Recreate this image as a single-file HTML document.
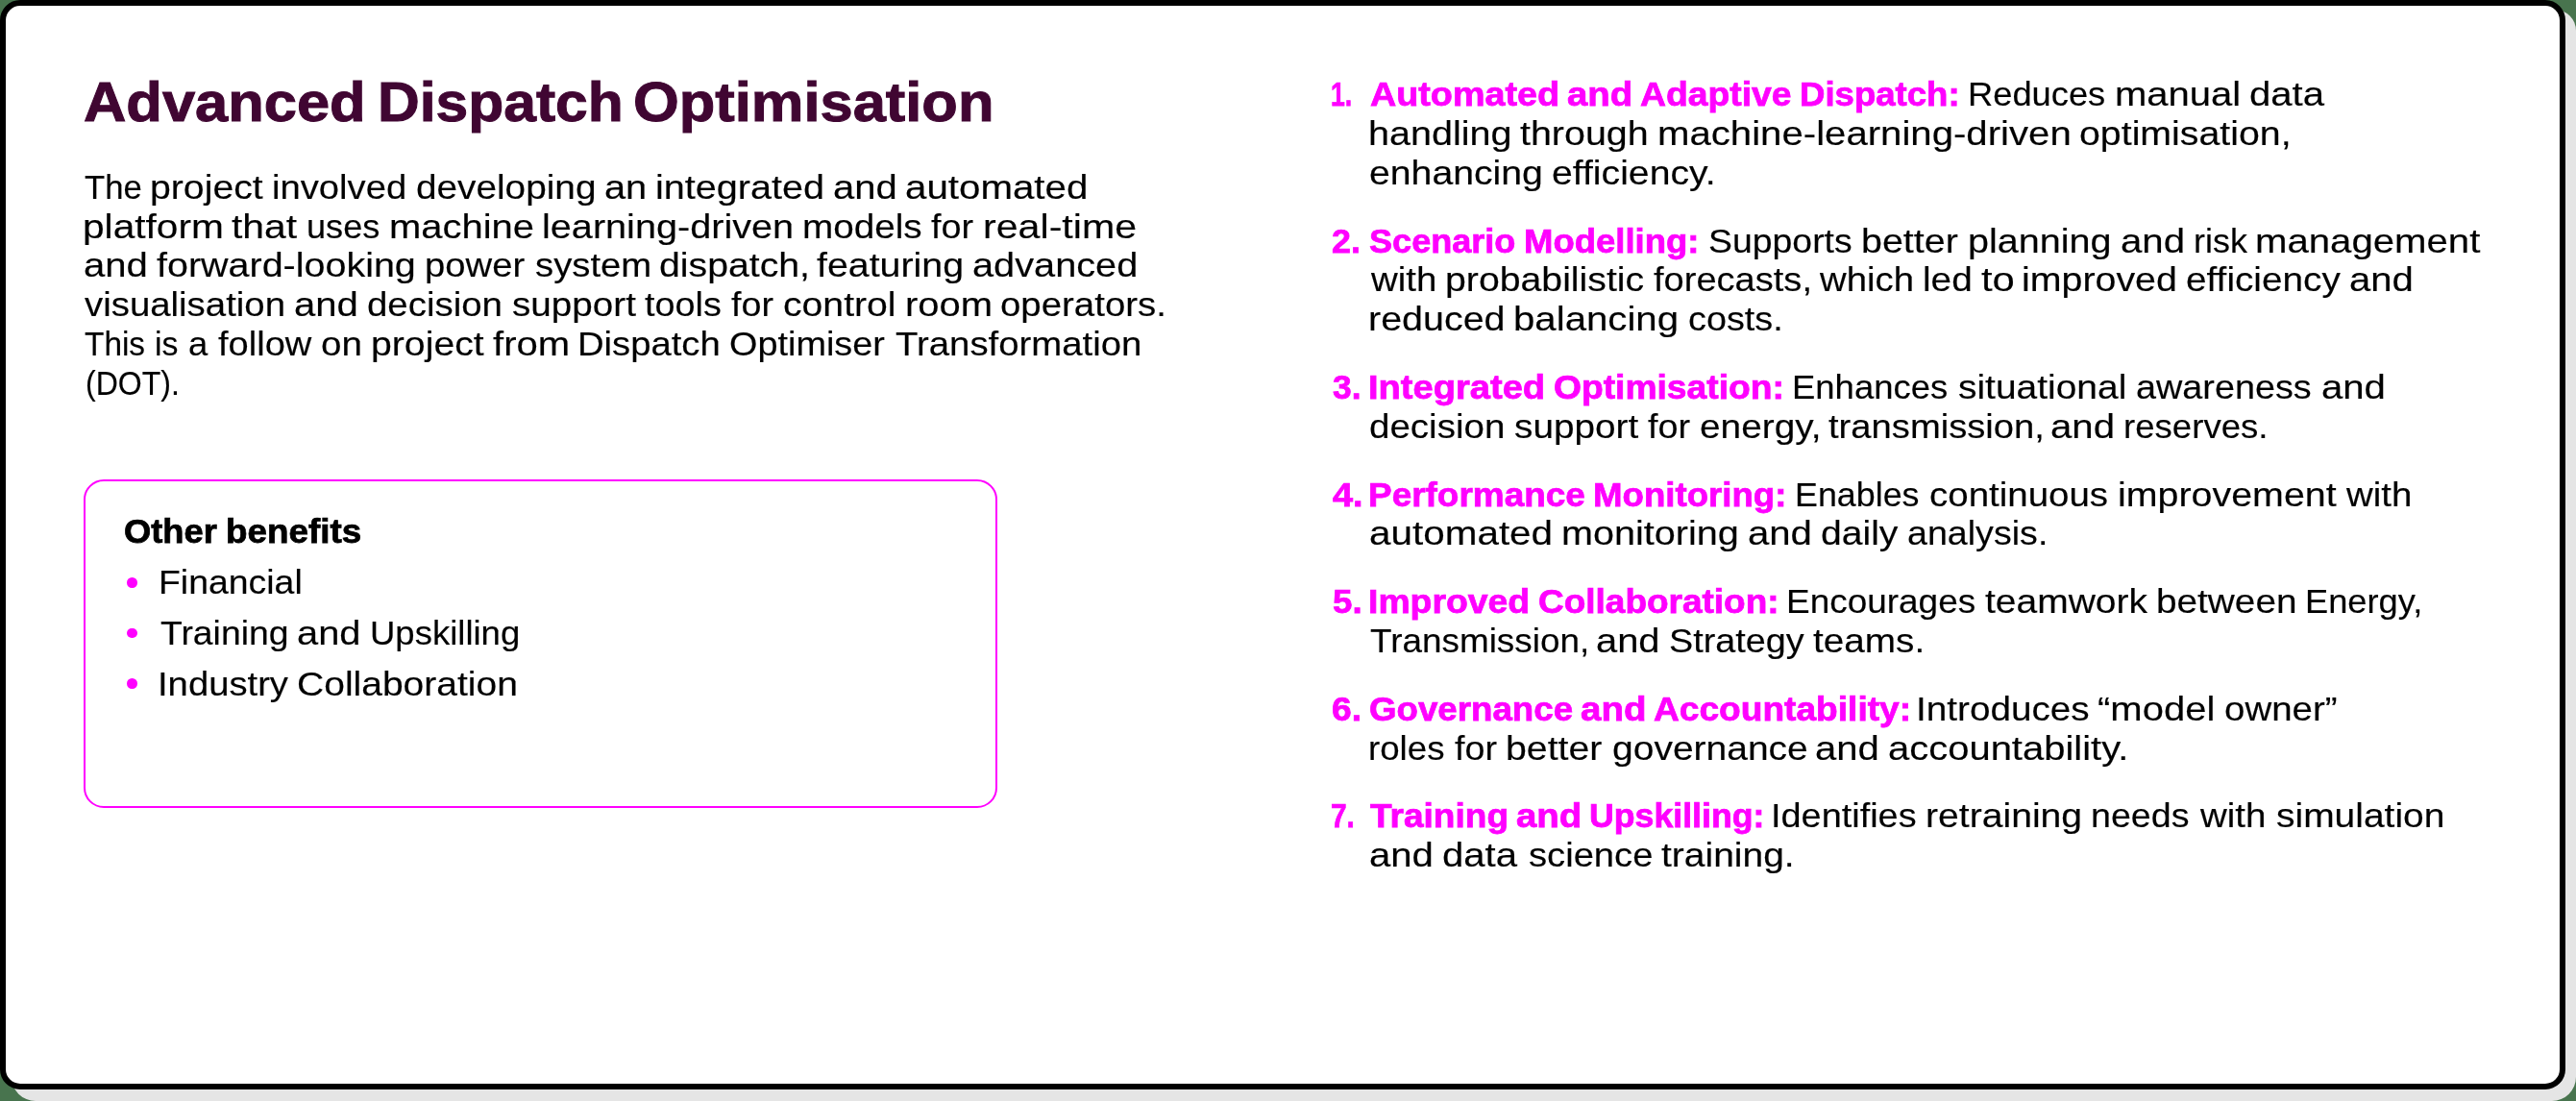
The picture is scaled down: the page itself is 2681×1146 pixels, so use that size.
<!DOCTYPE html>
<html><head><meta charset="utf-8"><title>Advanced Dispatch Optimisation</title><style>
html,body{margin:0;padding:0;}
body{width:2681px;height:1146px;background:#48744e;position:relative;overflow:hidden;font-family:"Liberation Sans", sans-serif;}
.shadow{position:absolute;left:12px;top:10px;width:2669px;height:1136px;background:#e5e5e5;border-radius:22px 22px 25px 25px;}
.card{position:absolute;left:0;top:0;width:2670px;height:1134px;box-sizing:border-box;border:6px solid #000;border-radius:21px;background:#fff;}
.box{position:absolute;left:86.5px;top:499px;width:951.5px;height:341.5px;box-sizing:border-box;border:2px solid #ff00ff;border-radius:21px;}
.txt{position:absolute;left:0;top:0;width:2681px;height:1146px;will-change:transform;}
.t{position:absolute;white-space:pre;line-height:1;transform-origin:0 0;}
.dot{position:absolute;width:10.6px;height:10.6px;border-radius:50%;background:#ff00ff;}
</style></head><body>
<div class="shadow"></div>
<div class="card"></div>
<div class="box"></div>
<div class="dot" style="left:132.2px;top:601.30px"></div><div class="dot" style="left:132.2px;top:653.80px"></div><div class="dot" style="left:132.2px;top:706.35px"></div>
<div class="txt">
<div class="t" style="left:87.44px;top:77.00px;font-size:58px;font-weight:700;color:#400632;-webkit-text-stroke:1.0px #400632;transform:scaleX(1.0592)">Advanced</div>
<div class="t" style="left:392.60px;top:77.00px;font-size:58px;font-weight:700;color:#400632;-webkit-text-stroke:1.0px #400632;transform:scaleX(1.0443)">Dispatch</div>
<div class="t" style="left:658.74px;top:77.00px;font-size:58px;font-weight:700;color:#400632;-webkit-text-stroke:1.0px #400632;transform:scaleX(1.0591)">Optimisation</div>
<div class="t" style="left:88.08px;top:176.80px;font-size:35px;font-weight:400;color:#000000;-webkit-text-stroke:0.15px #000000;transform:scaleX(0.9914)">The</div>
<div class="t" style="left:156.07px;top:176.80px;font-size:35px;font-weight:400;color:#000000;-webkit-text-stroke:0.15px #000000;transform:scaleX(1.1203)">project</div>
<div class="t" style="left:283.19px;top:176.80px;font-size:35px;font-weight:400;color:#000000;-webkit-text-stroke:0.15px #000000;transform:scaleX(1.0920)">involved</div>
<div class="t" style="left:432.50px;top:176.80px;font-size:35px;font-weight:400;color:#000000;-webkit-text-stroke:0.15px #000000;transform:scaleX(1.1070)">developing</div>
<div class="t" style="left:628.94px;top:176.80px;font-size:35px;font-weight:400;color:#000000;-webkit-text-stroke:0.15px #000000;transform:scaleX(1.1361)">an</div>
<div class="t" style="left:681.81px;top:176.80px;font-size:35px;font-weight:400;color:#000000;-webkit-text-stroke:0.15px #000000;transform:scaleX(1.1307)">integrated</div>
<div class="t" style="left:866.81px;top:176.80px;font-size:35px;font-weight:400;color:#000000;-webkit-text-stroke:0.15px #000000;transform:scaleX(1.1417)">and</div>
<div class="t" style="left:942.44px;top:176.80px;font-size:35px;font-weight:400;color:#000000;-webkit-text-stroke:0.15px #000000;transform:scaleX(1.1510)">automated</div>
<div class="t" style="left:85.75px;top:217.60px;font-size:35px;font-weight:400;color:#000000;-webkit-text-stroke:0.15px #000000;transform:scaleX(1.1617)">platform</div>
<div class="t" style="left:240.85px;top:217.60px;font-size:35px;font-weight:400;color:#000000;-webkit-text-stroke:0.15px #000000;transform:scaleX(1.1659)">that</div>
<div class="t" style="left:318.53px;top:217.60px;font-size:35px;font-weight:400;color:#000000;-webkit-text-stroke:0.15px #000000;transform:scaleX(1.0335)">uses</div>
<div class="t" style="left:404.80px;top:217.60px;font-size:35px;font-weight:400;color:#000000;-webkit-text-stroke:0.15px #000000;transform:scaleX(1.1413)">machine</div>
<div class="t" style="left:563.80px;top:217.60px;font-size:35px;font-weight:400;color:#000000;-webkit-text-stroke:0.15px #000000;transform:scaleX(1.1322)">learning-driven</div>
<div class="t" style="left:834.69px;top:217.60px;font-size:35px;font-weight:400;color:#000000;-webkit-text-stroke:0.15px #000000;transform:scaleX(1.1051)">models</div>
<div class="t" style="left:969.49px;top:217.60px;font-size:35px;font-weight:400;color:#000000;-webkit-text-stroke:0.15px #000000;transform:scaleX(1.0796)">for</div>
<div class="t" style="left:1023.27px;top:217.60px;font-size:35px;font-weight:400;color:#000000;-webkit-text-stroke:0.15px #000000;transform:scaleX(1.1759)">real-time</div>
<div class="t" style="left:86.93px;top:258.40px;font-size:35px;font-weight:400;color:#000000;-webkit-text-stroke:0.15px #000000;transform:scaleX(1.1449)">and</div>
<div class="t" style="left:162.93px;top:258.40px;font-size:35px;font-weight:400;color:#000000;-webkit-text-stroke:0.15px #000000;transform:scaleX(1.1276)">forward-looking</div>
<div class="t" style="left:441.70px;top:258.40px;font-size:35px;font-weight:400;color:#000000;-webkit-text-stroke:0.15px #000000;transform:scaleX(1.0930)">power</div>
<div class="t" style="left:556.91px;top:258.40px;font-size:35px;font-weight:400;color:#000000;-webkit-text-stroke:0.15px #000000;transform:scaleX(1.0935)">system</div>
<div class="t" style="left:686.34px;top:258.40px;font-size:35px;font-weight:400;color:#000000;-webkit-text-stroke:0.15px #000000;transform:scaleX(1.1207)">dispatch,</div>
<div class="t" style="left:850.05px;top:258.40px;font-size:35px;font-weight:400;color:#000000;-webkit-text-stroke:0.15px #000000;transform:scaleX(1.1236)">featuring</div>
<div class="t" style="left:1012.12px;top:258.40px;font-size:35px;font-weight:400;color:#000000;-webkit-text-stroke:0.15px #000000;transform:scaleX(1.1349)">advanced</div>
<div class="t" style="left:88.08px;top:299.20px;font-size:35px;font-weight:400;color:#000000;-webkit-text-stroke:0.15px #000000;transform:scaleX(1.0962)">visualisation</div>
<div class="t" style="left:305.92px;top:299.20px;font-size:35px;font-weight:400;color:#000000;-webkit-text-stroke:0.15px #000000;transform:scaleX(1.1450)">and</div>
<div class="t" style="left:381.82px;top:299.20px;font-size:35px;font-weight:400;color:#000000;-webkit-text-stroke:0.15px #000000;transform:scaleX(1.0980)">decision</div>
<div class="t" style="left:532.81px;top:299.20px;font-size:35px;font-weight:400;color:#000000;-webkit-text-stroke:0.15px #000000;transform:scaleX(1.1048)">support</div>
<div class="t" style="left:671.42px;top:299.20px;font-size:35px;font-weight:400;color:#000000;-webkit-text-stroke:0.15px #000000;transform:scaleX(1.0801)">tools</div>
<div class="t" style="left:761.38px;top:299.20px;font-size:35px;font-weight:400;color:#000000;-webkit-text-stroke:0.15px #000000;transform:scaleX(1.0776)">for</div>
<div class="t" style="left:815.28px;top:299.20px;font-size:35px;font-weight:400;color:#000000;-webkit-text-stroke:0.15px #000000;transform:scaleX(1.1190)">control</div>
<div class="t" style="left:941.94px;top:299.20px;font-size:35px;font-weight:400;color:#000000;-webkit-text-stroke:0.15px #000000;transform:scaleX(1.1425)">room</div>
<div class="t" style="left:1041.18px;top:299.20px;font-size:35px;font-weight:400;color:#000000;-webkit-text-stroke:0.15px #000000;transform:scaleX(1.0974)">operators.</div>
<div class="t" style="left:88.08px;top:340.00px;font-size:35px;font-weight:400;color:#000000;-webkit-text-stroke:0.15px #000000;transform:scaleX(0.9537)">This</div>
<div class="t" style="left:161.33px;top:340.00px;font-size:35px;font-weight:400;color:#000000;-webkit-text-stroke:0.15px #000000;transform:scaleX(0.9679)">is</div>
<div class="t" style="left:195.88px;top:340.00px;font-size:35px;font-weight:400;color:#000000;-webkit-text-stroke:0.15px #000000;transform:scaleX(1.0417)">a</div>
<div class="t" style="left:227.49px;top:340.00px;font-size:35px;font-weight:400;color:#000000;-webkit-text-stroke:0.15px #000000;transform:scaleX(1.0876)">follow</div>
<div class="t" style="left:334.12px;top:340.00px;font-size:35px;font-weight:400;color:#000000;-webkit-text-stroke:0.15px #000000;transform:scaleX(1.1030)">on</div>
<div class="t" style="left:385.77px;top:340.00px;font-size:35px;font-weight:400;color:#000000;-webkit-text-stroke:0.15px #000000;transform:scaleX(1.1202)">project</div>
<div class="t" style="left:513.07px;top:340.00px;font-size:35px;font-weight:400;color:#000000;-webkit-text-stroke:0.15px #000000;transform:scaleX(1.1450)">from</div>
<div class="t" style="left:601.24px;top:340.00px;font-size:35px;font-weight:400;color:#000000;-webkit-text-stroke:0.15px #000000;transform:scaleX(1.0923)">Dispatch</div>
<div class="t" style="left:758.87px;top:340.00px;font-size:35px;font-weight:400;color:#000000;-webkit-text-stroke:0.15px #000000;transform:scaleX(1.0809)">Optimiser</div>
<div class="t" style="left:931.70px;top:340.00px;font-size:35px;font-weight:400;color:#000000;-webkit-text-stroke:0.15px #000000;transform:scaleX(1.0956)">Transformation</div>
<div class="t" style="left:88.54px;top:380.90px;font-size:35px;font-weight:400;color:#000000;-webkit-text-stroke:0.15px #000000;transform:scaleX(0.9155)">(DOT).</div>
<div class="t" style="left:129.04px;top:535.00px;font-size:35px;font-weight:700;color:#000000;-webkit-text-stroke:0.75px #000000;transform:scaleX(1.0375)">Other</div>
<div class="t" style="left:234.56px;top:535.00px;font-size:35px;font-weight:700;color:#000000;-webkit-text-stroke:0.75px #000000;transform:scaleX(1.0519)">benefits</div>
<div class="t" style="left:165.14px;top:588.00px;font-size:35px;font-weight:400;color:#000000;-webkit-text-stroke:0.15px #000000;transform:scaleX(1.0687)">Financial</div>
<div class="t" style="left:166.57px;top:640.60px;font-size:35px;font-weight:400;color:#000000;-webkit-text-stroke:0.15px #000000;transform:scaleX(1.0666)">Training</div>
<div class="t" style="left:309.10px;top:640.60px;font-size:35px;font-weight:400;color:#000000;-webkit-text-stroke:0.15px #000000;transform:scaleX(1.1379)">and</div>
<div class="t" style="left:384.53px;top:640.60px;font-size:35px;font-weight:400;color:#000000;-webkit-text-stroke:0.15px #000000;transform:scaleX(1.0431)">Upskilling</div>
<div class="t" style="left:163.80px;top:693.60px;font-size:35px;font-weight:400;color:#000000;-webkit-text-stroke:0.15px #000000;transform:scaleX(1.0922)">Industry</div>
<div class="t" style="left:309.24px;top:693.60px;font-size:35px;font-weight:400;color:#000000;-webkit-text-stroke:0.15px #000000;transform:scaleX(1.1148)">Collaboration</div>
<div class="t" style="left:1384.76px;top:80.00px;font-size:35px;font-weight:700;color:#ff00ff;-webkit-text-stroke:0.75px #ff00ff;transform:scaleX(0.7599)">1.</div>
<div class="t" style="left:1426.38px;top:80.00px;font-size:35px;font-weight:700;color:#ff00ff;-webkit-text-stroke:0.75px #ff00ff;transform:scaleX(1.0778)">Automated</div>
<div class="t" style="left:1630.60px;top:80.00px;font-size:35px;font-weight:700;color:#ff00ff;-webkit-text-stroke:0.75px #ff00ff;transform:scaleX(1.0970)">and</div>
<div class="t" style="left:1707.17px;top:80.00px;font-size:35px;font-weight:700;color:#ff00ff;-webkit-text-stroke:0.75px #ff00ff;transform:scaleX(1.0660)">Adaptive</div>
<div class="t" style="left:1872.84px;top:80.00px;font-size:35px;font-weight:700;color:#ff00ff;-webkit-text-stroke:0.75px #ff00ff;transform:scaleX(1.0445)">Dispatch:</div>
<div class="t" style="left:2047.50px;top:80.00px;font-size:35px;font-weight:400;color:#000000;-webkit-text-stroke:0.15px #000000;transform:scaleX(1.0367)">Reduces</div>
<div class="t" style="left:2200.56px;top:80.00px;font-size:35px;font-weight:400;color:#000000;-webkit-text-stroke:0.15px #000000;transform:scaleX(1.1434)">manual</div>
<div class="t" style="left:2341.03px;top:80.00px;font-size:35px;font-weight:400;color:#000000;-webkit-text-stroke:0.15px #000000;transform:scaleX(1.1462)">data</div>
<div class="t" style="left:1423.82px;top:120.80px;font-size:35px;font-weight:400;color:#000000;-webkit-text-stroke:0.15px #000000;transform:scaleX(1.1291)">handling</div>
<div class="t" style="left:1582.42px;top:120.80px;font-size:35px;font-weight:400;color:#000000;-webkit-text-stroke:0.15px #000000;transform:scaleX(1.1260)">through</div>
<div class="t" style="left:1724.77px;top:120.80px;font-size:35px;font-weight:400;color:#000000;-webkit-text-stroke:0.15px #000000;transform:scaleX(1.1472)">machine-learning-driven</div>
<div class="t" style="left:2164.34px;top:120.80px;font-size:35px;font-weight:400;color:#000000;-webkit-text-stroke:0.15px #000000;transform:scaleX(1.1230)">optimisation,</div>
<div class="t" style="left:1424.96px;top:161.60px;font-size:35px;font-weight:400;color:#000000;-webkit-text-stroke:0.15px #000000;transform:scaleX(1.1198)">enhancing</div>
<div class="t" style="left:1614.90px;top:161.60px;font-size:35px;font-weight:400;color:#000000;-webkit-text-stroke:0.15px #000000;transform:scaleX(1.1193)">efficiency.</div>
<div class="t" style="left:1385.75px;top:232.50px;font-size:35px;font-weight:700;color:#ff00ff;-webkit-text-stroke:0.75px #ff00ff;transform:scaleX(1.0221)">2.</div>
<div class="t" style="left:1425.34px;top:232.50px;font-size:35px;font-weight:700;color:#ff00ff;-webkit-text-stroke:0.75px #ff00ff;transform:scaleX(1.0309)">Scenario</div>
<div class="t" style="left:1585.69px;top:232.50px;font-size:35px;font-weight:700;color:#ff00ff;-webkit-text-stroke:0.75px #ff00ff;transform:scaleX(1.0431)">Modelling:</div>
<div class="t" style="left:1777.91px;top:232.50px;font-size:35px;font-weight:400;color:#000000;-webkit-text-stroke:0.15px #000000;transform:scaleX(1.0685)">Supports</div>
<div class="t" style="left:1937.48px;top:232.50px;font-size:35px;font-weight:400;color:#000000;-webkit-text-stroke:0.15px #000000;transform:scaleX(1.1258)">better</div>
<div class="t" style="left:2048.04px;top:232.50px;font-size:35px;font-weight:400;color:#000000;-webkit-text-stroke:0.15px #000000;transform:scaleX(1.1300)">planning</div>
<div class="t" style="left:2206.62px;top:232.50px;font-size:35px;font-weight:400;color:#000000;-webkit-text-stroke:0.15px #000000;transform:scaleX(1.1480)">and</div>
<div class="t" style="left:2282.78px;top:232.50px;font-size:35px;font-weight:400;color:#000000;-webkit-text-stroke:0.15px #000000;transform:scaleX(1.0260)">risk</div>
<div class="t" style="left:2347.28px;top:232.50px;font-size:35px;font-weight:400;color:#000000;-webkit-text-stroke:0.15px #000000;transform:scaleX(1.1470)">management</div>
<div class="t" style="left:1427.17px;top:273.30px;font-size:35px;font-weight:400;color:#000000;-webkit-text-stroke:0.15px #000000;transform:scaleX(1.0980)">with</div>
<div class="t" style="left:1504.26px;top:273.30px;font-size:35px;font-weight:400;color:#000000;-webkit-text-stroke:0.15px #000000;transform:scaleX(1.1209)">probabilistic</div>
<div class="t" style="left:1721.34px;top:273.30px;font-size:35px;font-weight:400;color:#000000;-webkit-text-stroke:0.15px #000000;transform:scaleX(1.0873)">forecasts,</div>
<div class="t" style="left:1894.20px;top:273.30px;font-size:35px;font-weight:400;color:#000000;-webkit-text-stroke:0.15px #000000;transform:scaleX(1.0949)">which</div>
<div class="t" style="left:2000.96px;top:273.30px;font-size:35px;font-weight:400;color:#000000;-webkit-text-stroke:0.15px #000000;transform:scaleX(1.1078)">led</div>
<div class="t" style="left:2061.89px;top:273.30px;font-size:35px;font-weight:400;color:#000000;-webkit-text-stroke:0.15px #000000;transform:scaleX(1.1923)">to</div>
<div class="t" style="left:2104.29px;top:273.30px;font-size:35px;font-weight:400;color:#000000;-webkit-text-stroke:0.15px #000000;transform:scaleX(1.1246)">improved</div>
<div class="t" style="left:2275.22px;top:273.30px;font-size:35px;font-weight:400;color:#000000;-webkit-text-stroke:0.15px #000000;transform:scaleX(1.1071)">efficiency</div>
<div class="t" style="left:2445.47px;top:273.30px;font-size:35px;font-weight:400;color:#000000;-webkit-text-stroke:0.15px #000000;transform:scaleX(1.1444)">and</div>
<div class="t" style="left:1423.82px;top:314.10px;font-size:35px;font-weight:400;color:#000000;-webkit-text-stroke:0.15px #000000;transform:scaleX(1.1269)">reduced</div>
<div class="t" style="left:1575.32px;top:314.10px;font-size:35px;font-weight:400;color:#000000;-webkit-text-stroke:0.15px #000000;transform:scaleX(1.1484)">balancing</div>
<div class="t" style="left:1756.53px;top:314.10px;font-size:35px;font-weight:400;color:#000000;-webkit-text-stroke:0.15px #000000;transform:scaleX(1.0801)">costs.</div>
<div class="t" style="left:1386.78px;top:385.00px;font-size:35px;font-weight:700;color:#ff00ff;-webkit-text-stroke:0.75px #ff00ff;transform:scaleX(1.0104)">3.</div>
<div class="t" style="left:1424.20px;top:385.00px;font-size:35px;font-weight:700;color:#ff00ff;-webkit-text-stroke:0.75px #ff00ff;transform:scaleX(1.0880)">Integrated</div>
<div class="t" style="left:1616.58px;top:385.00px;font-size:35px;font-weight:700;color:#ff00ff;-webkit-text-stroke:0.75px #ff00ff;transform:scaleX(1.0635)">Optimisation:</div>
<div class="t" style="left:1864.99px;top:385.00px;font-size:35px;font-weight:400;color:#000000;-webkit-text-stroke:0.15px #000000;transform:scaleX(1.0419)">Enhances</div>
<div class="t" style="left:2038.31px;top:385.00px;font-size:35px;font-weight:400;color:#000000;-webkit-text-stroke:0.15px #000000;transform:scaleX(1.1125)">situational</div>
<div class="t" style="left:2222.98px;top:385.00px;font-size:35px;font-weight:400;color:#000000;-webkit-text-stroke:0.15px #000000;transform:scaleX(1.0796)">awareness</div>
<div class="t" style="left:2415.68px;top:385.00px;font-size:35px;font-weight:400;color:#000000;-webkit-text-stroke:0.15px #000000;transform:scaleX(1.1460)">and</div>
<div class="t" style="left:1424.97px;top:425.80px;font-size:35px;font-weight:400;color:#000000;-webkit-text-stroke:0.15px #000000;transform:scaleX(1.1005)">decision</div>
<div class="t" style="left:1576.31px;top:425.80px;font-size:35px;font-weight:400;color:#000000;-webkit-text-stroke:0.15px #000000;transform:scaleX(1.1073)">support</div>
<div class="t" style="left:1715.24px;top:425.80px;font-size:35px;font-weight:400;color:#000000;-webkit-text-stroke:0.15px #000000;transform:scaleX(1.0801)">for</div>
<div class="t" style="left:1769.29px;top:425.80px;font-size:35px;font-weight:400;color:#000000;-webkit-text-stroke:0.15px #000000;transform:scaleX(1.1084)">energy,</div>
<div class="t" style="left:1902.57px;top:425.80px;font-size:35px;font-weight:400;color:#000000;-webkit-text-stroke:0.15px #000000;transform:scaleX(1.0910)">transmission,</div>
<div class="t" style="left:2134.17px;top:425.80px;font-size:35px;font-weight:400;color:#000000;-webkit-text-stroke:0.15px #000000;transform:scaleX(1.1476)">and</div>
<div class="t" style="left:2210.25px;top:425.80px;font-size:35px;font-weight:400;color:#000000;-webkit-text-stroke:0.15px #000000;transform:scaleX(1.0458)">reserves.</div>
<div class="t" style="left:1386.78px;top:496.60px;font-size:35px;font-weight:700;color:#ff00ff;-webkit-text-stroke:0.75px #ff00ff;transform:scaleX(1.0832)">4.</div>
<div class="t" style="left:1424.26px;top:496.60px;font-size:35px;font-weight:700;color:#ff00ff;-webkit-text-stroke:0.75px #ff00ff;transform:scaleX(1.0556)">Performance</div>
<div class="t" style="left:1658.28px;top:496.60px;font-size:35px;font-weight:700;color:#ff00ff;-webkit-text-stroke:0.75px #ff00ff;transform:scaleX(1.0467)">Monitoring:</div>
<div class="t" style="left:1868.43px;top:496.60px;font-size:35px;font-weight:400;color:#000000;-webkit-text-stroke:0.15px #000000;transform:scaleX(1.0236)">Enables</div>
<div class="t" style="left:2007.91px;top:496.60px;font-size:35px;font-weight:400;color:#000000;-webkit-text-stroke:0.15px #000000;transform:scaleX(1.0993)">continuous</div>
<div class="t" style="left:2203.84px;top:496.60px;font-size:35px;font-weight:400;color:#000000;-webkit-text-stroke:0.15px #000000;transform:scaleX(1.1254)">improvement</div>
<div class="t" style="left:2442.23px;top:496.60px;font-size:35px;font-weight:400;color:#000000;-webkit-text-stroke:0.15px #000000;transform:scaleX(1.0974)">with</div>
<div class="t" style="left:1424.92px;top:537.40px;font-size:35px;font-weight:400;color:#000000;-webkit-text-stroke:0.15px #000000;transform:scaleX(1.1554)">automated</div>
<div class="t" style="left:1624.88px;top:537.40px;font-size:35px;font-weight:400;color:#000000;-webkit-text-stroke:0.15px #000000;transform:scaleX(1.1305)">monitoring</div>
<div class="t" style="left:1818.65px;top:537.40px;font-size:35px;font-weight:400;color:#000000;-webkit-text-stroke:0.15px #000000;transform:scaleX(1.1460)">and</div>
<div class="t" style="left:1894.60px;top:537.40px;font-size:35px;font-weight:400;color:#000000;-webkit-text-stroke:0.15px #000000;transform:scaleX(1.1169)">daily</div>
<div class="t" style="left:1984.51px;top:537.40px;font-size:35px;font-weight:400;color:#000000;-webkit-text-stroke:0.15px #000000;transform:scaleX(1.0747)">analysis.</div>
<div class="t" style="left:1386.53px;top:608.20px;font-size:35px;font-weight:700;color:#ff00ff;-webkit-text-stroke:0.75px #ff00ff;transform:scaleX(1.0485)">5.</div>
<div class="t" style="left:1424.24px;top:608.20px;font-size:35px;font-weight:700;color:#ff00ff;-webkit-text-stroke:0.75px #ff00ff;transform:scaleX(1.0672)">Improved</div>
<div class="t" style="left:1600.67px;top:608.20px;font-size:35px;font-weight:700;color:#ff00ff;-webkit-text-stroke:0.75px #ff00ff;transform:scaleX(1.0563)">Collaboration:</div>
<div class="t" style="left:1858.96px;top:608.20px;font-size:35px;font-weight:400;color:#000000;-webkit-text-stroke:0.15px #000000;transform:scaleX(1.0555)">Encourages</div>
<div class="t" style="left:2066.24px;top:608.20px;font-size:35px;font-weight:400;color:#000000;-webkit-text-stroke:0.15px #000000;transform:scaleX(1.1143)">teamwork</div>
<div class="t" style="left:2244.03px;top:608.20px;font-size:35px;font-weight:400;color:#000000;-webkit-text-stroke:0.15px #000000;transform:scaleX(1.1071)">between</div>
<div class="t" style="left:2399.42px;top:608.20px;font-size:35px;font-weight:400;color:#000000;-webkit-text-stroke:0.15px #000000;transform:scaleX(1.0364)">Energy,</div>
<div class="t" style="left:1426.08px;top:649.00px;font-size:35px;font-weight:400;color:#000000;-webkit-text-stroke:0.15px #000000;transform:scaleX(1.0541)">Transmission,</div>
<div class="t" style="left:1661.01px;top:649.00px;font-size:35px;font-weight:400;color:#000000;-webkit-text-stroke:0.15px #000000;transform:scaleX(1.1397)">and</div>
<div class="t" style="left:1736.58px;top:649.00px;font-size:35px;font-weight:400;color:#000000;-webkit-text-stroke:0.15px #000000;transform:scaleX(1.0790)">Strategy</div>
<div class="t" style="left:1886.74px;top:649.00px;font-size:35px;font-weight:400;color:#000000;-webkit-text-stroke:0.15px #000000;transform:scaleX(1.1063)">teams.</div>
<div class="t" style="left:1385.91px;top:719.80px;font-size:35px;font-weight:700;color:#ff00ff;-webkit-text-stroke:0.75px #ff00ff;transform:scaleX(1.0637)">6.</div>
<div class="t" style="left:1425.33px;top:719.80px;font-size:35px;font-weight:700;color:#ff00ff;-webkit-text-stroke:0.75px #ff00ff;transform:scaleX(1.0483)">Governance</div>
<div class="t" style="left:1644.54px;top:719.80px;font-size:35px;font-weight:700;color:#ff00ff;-webkit-text-stroke:0.75px #ff00ff;transform:scaleX(1.1005)">and</div>
<div class="t" style="left:1721.35px;top:719.80px;font-size:35px;font-weight:700;color:#ff00ff;-webkit-text-stroke:0.75px #ff00ff;transform:scaleX(1.0605)">Accountability:</div>
<div class="t" style="left:1993.76px;top:719.80px;font-size:35px;font-weight:400;color:#000000;-webkit-text-stroke:0.15px #000000;transform:scaleX(1.1050)">Introduces</div>
<div class="t" style="left:2183.39px;top:719.80px;font-size:35px;font-weight:400;color:#000000;-webkit-text-stroke:0.15px #000000;transform:scaleX(1.1440)">“model</div>
<div class="t" style="left:2315.14px;top:719.80px;font-size:35px;font-weight:400;color:#000000;-webkit-text-stroke:0.15px #000000;transform:scaleX(1.0984)">owner”</div>
<div class="t" style="left:1423.98px;top:760.60px;font-size:35px;font-weight:400;color:#000000;-webkit-text-stroke:0.15px #000000;transform:scaleX(1.0476)">roles</div>
<div class="t" style="left:1513.56px;top:760.60px;font-size:35px;font-weight:400;color:#000000;-webkit-text-stroke:0.15px #000000;transform:scaleX(1.0764)">for</div>
<div class="t" style="left:1567.28px;top:760.60px;font-size:35px;font-weight:400;color:#000000;-webkit-text-stroke:0.15px #000000;transform:scaleX(1.1215)">better</div>
<div class="t" style="left:1677.55px;top:760.60px;font-size:35px;font-weight:400;color:#000000;-webkit-text-stroke:0.15px #000000;transform:scaleX(1.1142)">governance</div>
<div class="t" style="left:1889.49px;top:760.60px;font-size:35px;font-weight:400;color:#000000;-webkit-text-stroke:0.15px #000000;transform:scaleX(1.1436)">and</div>
<div class="t" style="left:1965.26px;top:760.60px;font-size:35px;font-weight:400;color:#000000;-webkit-text-stroke:0.15px #000000;transform:scaleX(1.1418)">accountability.</div>
<div class="t" style="left:1385.42px;top:831.40px;font-size:35px;font-weight:700;color:#ff00ff;-webkit-text-stroke:0.75px #ff00ff;transform:scaleX(0.8521)">7.</div>
<div class="t" style="left:1426.38px;top:831.40px;font-size:35px;font-weight:700;color:#ff00ff;-webkit-text-stroke:0.75px #ff00ff;transform:scaleX(1.0580)">Training</div>
<div class="t" style="left:1577.65px;top:831.40px;font-size:35px;font-weight:700;color:#ff00ff;-webkit-text-stroke:0.75px #ff00ff;transform:scaleX(1.0979)">and</div>
<div class="t" style="left:1654.24px;top:831.40px;font-size:35px;font-weight:700;color:#ff00ff;-webkit-text-stroke:0.75px #ff00ff;transform:scaleX(1.0196)">Upskilling:</div>
<div class="t" style="left:1842.83px;top:831.40px;font-size:35px;font-weight:400;color:#000000;-webkit-text-stroke:0.15px #000000;transform:scaleX(1.0823)">Identifies</div>
<div class="t" style="left:2004.32px;top:831.40px;font-size:35px;font-weight:400;color:#000000;-webkit-text-stroke:0.15px #000000;transform:scaleX(1.1180)">retraining</div>
<div class="t" style="left:2176.48px;top:831.40px;font-size:35px;font-weight:400;color:#000000;-webkit-text-stroke:0.15px #000000;transform:scaleX(1.0741)">needs</div>
<div class="t" style="left:2290.13px;top:831.40px;font-size:35px;font-weight:400;color:#000000;-webkit-text-stroke:0.15px #000000;transform:scaleX(1.0994)">with</div>
<div class="t" style="left:2368.56px;top:831.40px;font-size:35px;font-weight:400;color:#000000;-webkit-text-stroke:0.15px #000000;transform:scaleX(1.1132)">simulation</div>
<div class="t" style="left:1424.93px;top:872.20px;font-size:35px;font-weight:400;color:#000000;-webkit-text-stroke:0.15px #000000;transform:scaleX(1.1459)">and</div>
<div class="t" style="left:1500.85px;top:872.20px;font-size:35px;font-weight:400;color:#000000;-webkit-text-stroke:0.15px #000000;transform:scaleX(1.1461)">data</div>
<div class="t" style="left:1591.35px;top:872.20px;font-size:35px;font-weight:400;color:#000000;-webkit-text-stroke:0.15px #000000;transform:scaleX(1.0905)">science</div>
<div class="t" style="left:1729.11px;top:872.20px;font-size:35px;font-weight:400;color:#000000;-webkit-text-stroke:0.15px #000000;transform:scaleX(1.1135)">training.</div>
</div>
</body></html>
